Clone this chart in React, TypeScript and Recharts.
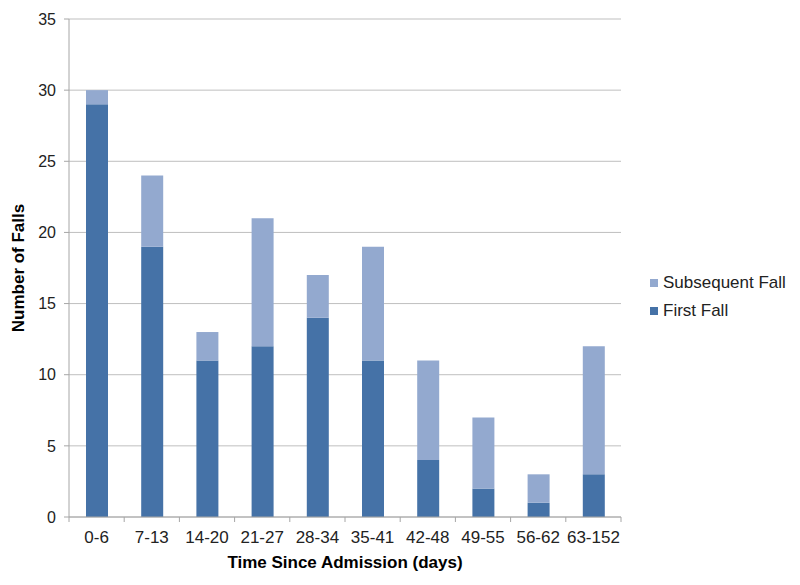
import { Bar, BarChart, CartesianGrid, Legend, XAxis, YAxis } from "recharts";

const periodos = [
  "0-6",
  "7-13",
  "14-20",
  "21-27",
  "28-34",
  "35-41",
  "42-48",
  "49-55",
  "56-62",
  "63-152",
];
const primeiraQueda = [29, 19, 11, 12, 14, 11, 4, 2, 1, 3];
const quedasSeguintes = [1, 5, 2, 9, 3, 8, 7, 5, 2, 9];
const yTicks = [0, 5, 10, 15, 20, 25, 30, 35];

const COR_PRIMEIRA = "#4572a7";
const COR_SEGUINTE = "#93a9cf";
const FONTE = "'Liberation Sans', Arial, sans-serif";

const dados = periodos.map((p, i) => ({
  periodo: p,
  primeira: primeiraQueda[i],
  seguinte: quedasSeguintes[i],
}));

function TickCategoria({ x, y, payload, index }: any) {
  const meio = payload?.offset ?? 0;
  const ultimo = index === periodos.length - 1;
  return (
    <g>
      <line x1={x - meio} x2={x - meio} y1={y} y2={y + 5} stroke="#a6a6a6" />
      {ultimo && (
        <line x1={x + meio} x2={x + meio} y1={y} y2={y + 5} stroke="#a6a6a6" />
      )}
      <text
        x={x}
        y={y + 20}
        dy="0.35em"
        textAnchor="middle"
        fill="#222"
        fontSize={17}
        fontFamily={FONTE}
      >
        {payload.value}
      </text>
    </g>
  );
}

function Legenda() {
  const itens = [
    { nome: "Subsequent Fall", cor: COR_SEGUINTE },
    { nome: "First Fall", cor: COR_PRIMEIRA },
  ];
  return (
    <div style={{ width: 140, paddingLeft: 29, paddingTop: 9, fontFamily: FONTE }}>
      {itens.map((it) => (
        <div
          key={it.nome}
          style={{
            display: "flex",
            alignItems: "center",
            height: 28,
            fontSize: 17,
            color: "#222",
            whiteSpace: "nowrap",
          }}
        >
          <span
            style={{
              width: 8,
              height: 8,
              background: it.cor,
              marginRight: 5,
              display: "inline-block",
            }}
          />
          {it.nome}
        </div>
      ))}
    </div>
  );
}

export default function App() {
  return (
    <div style={{ position: "absolute", left: 0, top: 0, background: "#fff" }}>
      <BarChart
        width={800}
        height={585}
        data={dados}
        margin={{ top: 19, right: 10, bottom: 8, left: 0 }}
      >
        <CartesianGrid vertical={false} stroke="#bfbfbf" />
        <XAxis
          dataKey="periodo"
          height={60}
          tickSize={0}
          tickMargin={0}
          tick={<TickCategoria />}
          axisLine={{ stroke: "#a6a6a6" }}
          interval={0}
          label={{
            value: "Time Since Admission (days)",
            position: "insideBottom",
            offset: 9,
            style: {
              fontFamily: FONTE,
              fontSize: 17,
              fontWeight: "bold",
              fill: "#000",
            },
          }}
        />
        <YAxis
          width={69}
          domain={[0, 35]}
          ticks={yTicks}
          interval={0}
          tickSize={5}
          tickMargin={8}
          tickLine={{ stroke: "#a6a6a6" }}
          axisLine={{ stroke: "#a6a6a6" }}
          tick={{ fontSize: 16, fill: "#222", fontFamily: FONTE }}
          label={{
            value: "Number of Falls",
            angle: -90,
            position: "insideLeft",
            offset: 18,
            style: {
              textAnchor: "middle",
              fontFamily: FONTE,
              fontSize: 17,
              fontWeight: "bold",
              fill: "#000",
            },
          }}
        />
        <Legend
          layout="vertical"
          align="right"
          verticalAlign="middle"
          content={<Legenda />}
        />
        <Bar
          dataKey="primeira"
          name="First Fall"
          stackId="a"
          fill={COR_PRIMEIRA}
          barSize={22}
          isAnimationActive={false}
        />
        <Bar
          dataKey="seguinte"
          name="Subsequent Fall"
          stackId="a"
          fill={COR_SEGUINTE}
          barSize={22}
          isAnimationActive={false}
        />
      </BarChart>
    </div>
  );
}
